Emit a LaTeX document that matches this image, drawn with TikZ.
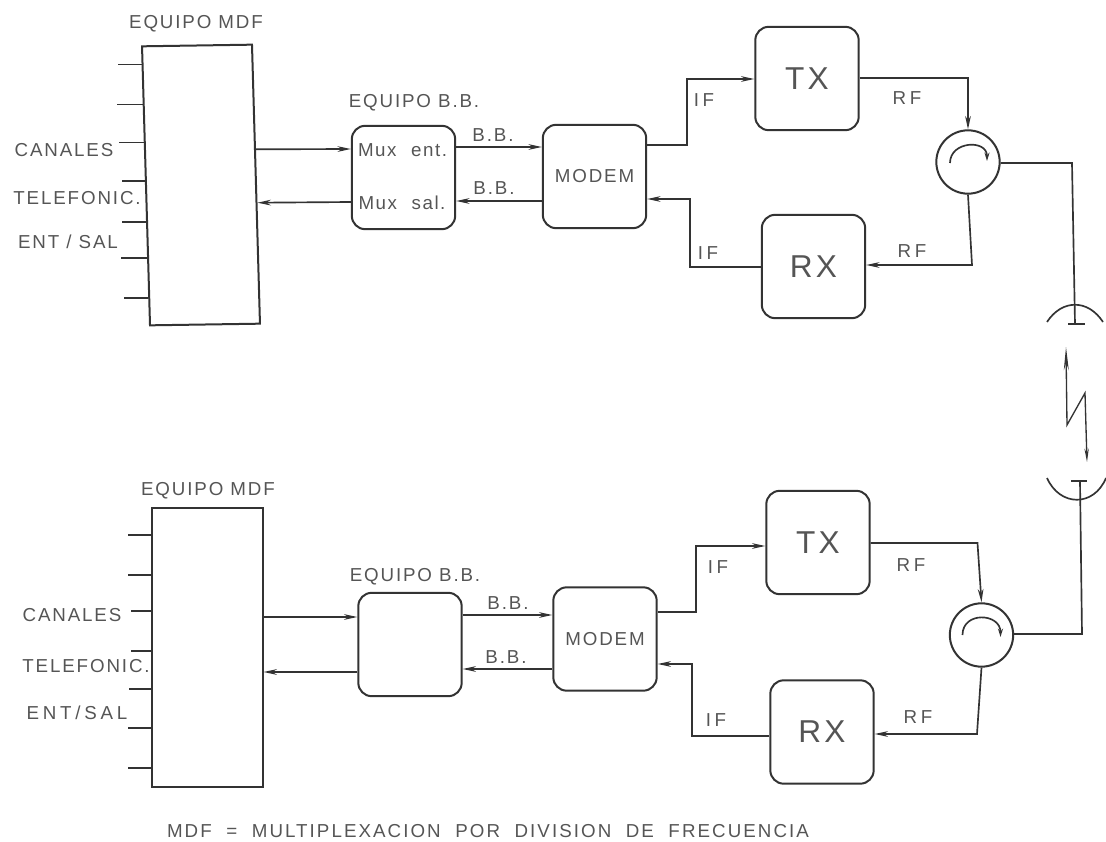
\documentclass[tikz,border=0pt]{standalone}
\usepackage{fontspec}
\setmainfont{Liberation Sans}
\newfontfamily\lblfont[LetterSpace=10]{Liberation Sans}
\newfontfamily\widefont[LetterSpace=20]{Liberation Sans}
\newfontfamily\notefont[LetterSpace=11, WordSpace=2]{Liberation Sans}
\newfontfamily\muxfont[LetterSpace=8, WordSpace=2.2]{Liberation Sans}
\usetikzlibrary{arrows.meta, calc}
\definecolor{clrInk}{HTML}{333333}
\definecolor{clrText}{HTML}{555555}
\tikzset{
  mdfbox/.style = {rectangle, draw=clrInk, line width=0.06cm, minimum width=3.3cm, minimum height=8.37cm, inner sep=0pt},
  unit/.style = {rectangle, rounded corners=0.4cm, draw=clrInk, line width=0.06cm, minimum width=3.1cm, minimum height=3.1cm,
                 inner sep=0pt, align=center, text=clrText},
  circulator/.style = {circle, draw=clrInk, line width=0.06cm, minimum size=1.9cm, inner sep=0pt},
  wire/.style = {line width=0.05cm, draw=clrInk},
  arrow/.style = {wire, -{Stealth[length=4mm, width=1.7mm]}},
  spin/.style = {line width=0.05cm, draw=clrInk, -{Stealth[length=2.5mm, width=1.5mm]}},
  lbl/.style = {inner sep=0pt, text=clrText, font=\lblfont\fontsize{16}{18}\selectfont},
  lblwide/.style = {inner sep=0pt, text=clrText, font=\widefont\fontsize{16}{18}\selectfont},
  note/.style = {inner sep=0pt, text=clrText, font=\notefont\fontsize{16}{18}\selectfont},
  mux/.style = {inner sep=0pt, text=clrText, font=\muxfont\fontsize{16}{18}\selectfont},
  modemtxt/.style = {font=\lblfont\fontsize{16}{18}\selectfont},
  radiotxt/.style = {font=\lblfont\fontsize{27}{30}\selectfont},
}
\begin{document}
\begin{tikzpicture}[x=0.03cm, y=-0.03cm]
  \useasboundingbox (0,0) rectangle (1106,842);

  % --- Upper station ---
  \begin{scope}[shift={(201,185)}, xslant=-0.0286, yslant=0.015]
    \node[mdfbox, transform shape] at (0,0) (MDFa) {};
  \end{scope}
  \node[unit] at (403.5,177.5) (BBa) {};
  \node[unit, modemtxt] at (594.5,176.5) (MODa) {MODEM};
  \node[unit, radiotxt] at (807,78.5) (TXa) {TX};
  \node[unit, radiotxt] at (813.5,266.5) (RXa) {RX};
  \node[circulator] at (968,162) (CIRa) {};

  % Channel stubs
  \foreach \t/\l in {0.068/24, 0.211/26, 0.346/25, 0.482/23, 0.629/24, 0.757/26, 0.9/24} {
    \draw[wire] ($(MDFa.north west)!\t!(MDFa.south west)$) -- +(-\l,0);
  }

  % Upper links
  \draw[arrow] ($(MDFa.north east)!0.376!(MDFa.south east)$) -- (BBa.west |- 0,149);
  \draw[arrow] (BBa.west |- 0,202) -- ($(MDFa.north east)!0.566!(MDFa.south east)$);
  \draw[arrow] (BBa.east |- 0,147) -- (MODa.west |- 0,147);
  \draw[arrow] (MODa.west |- 0,201) -- (BBa.east |- 0,201);
  \draw[arrow] (MODa.east |- 0,145) -- (687,145) -- (687,79) -- (TXa.west |- 0,79);
  \draw[arrow] (RXa.west |- 0,267) -- (690,267) -- (690,199) -- (MODa.east |- 0,199);
  \draw[arrow] (TXa.east |- 0,78) -- (968,78) -- (CIRa.north);
  \draw[arrow] (CIRa.south) -- (972,265) -- (RXa.east |- 0,265);
  \draw[spin] ([shift={(-18,1)}]CIRa.center) .. controls +(0,-22) and +(0,-22) .. ([shift={(19,-1)}]CIRa.center);

  % Upper labels
  \node[lbl] at (196,24) (LMDFa) {EQUIPO MDF};
  \node[lbl] at (414,103) (LBBa) {EQUIPO B.B.};
  \node[mux] at (402.5,150) (LMUXa) {Mux ent.};
  \node[mux] at (402,203) (LMUXb) {Mux sal.};
  \node[lbl] at (493,135) (LBBb) {B.B.};
  \node[lbl] at (494,188) (LBBc) {B.B.};
  \node[lblwide] at (704,100) (LIFa) {IF};
  \node[lblwide] at (708,253) (LIFb) {IF};
  \node[lblwide] at (907,98) (LRFa) {RF};
  \node[lblwide] at (912,251) (LRFb) {RF};
  \node[lbl] at (64,150) (LCANa) {CANALES};
  \node[lbl] at (77,198) (LTELa) {TELEFONIC.};
  \node[lbl] at (68,242) (LENTa) {ENT / SAL};

  % --- Lower station ---
  \node[mdfbox] at (207.5,647.5) (MDFb) {};
  \node[unit] at (410,644.5) (BBb) {};
  \node[unit, modemtxt] at (605,639) (MODb) {MODEM};
  \node[unit, radiotxt] at (818,542.5) (TXb) {TX};
  \node[unit, radiotxt] at (822,732) (RXb) {RX};
  \node[circulator] at (981.5,635) (CIRb) {};

  \foreach \y/\l in {535/23, 575/23, 611/20, 651/20, 689/22, 728/23, 768/23} {
    \draw[wire] (MDFb.west |- 0,\y) -- +(-\l,0);
  }

  % Lower links
  \draw[arrow] (MDFb.east |- 0,617) -- (BBb.west |- 0,617);
  \draw[arrow] (BBb.west |- 0,672) -- (MDFb.east |- 0,672);
  \draw[arrow] (BBb.east |- 0,615) -- (MODb.west |- 0,615);
  \draw[arrow] (MODb.west |- 0,669) -- (BBb.east |- 0,669);
  \draw[arrow] (MODb.east |- 0,612) -- (696,612) -- (696,546) -- (TXb.west |- 0,546);
  \draw[arrow] (RXb.west |- 0,736) -- (692,736) -- (692,664) -- (MODb.east |- 0,664);
  \draw[arrow] (TXb.east |- 0,543) -- (977.5,543) -- (CIRb.north);
  \draw[arrow] (CIRb.south) -- (977,734) -- (RXb.east |- 0,734);
  \draw[spin] ([shift={(-19,0)}]CIRb.center) .. controls +(0,-24) and +(0,-24) .. ([shift={(19,2)}]CIRb.center);

  % Lower labels
  \node[lbl] at (208,491) (LMDFb) {EQUIPO MDF};
  \node[lbl] at (415,577) (LBBd) {EQUIPO B.B.};
  \node[lbl] at (508,603) (LBBe) {B.B.};
  \node[lbl] at (506,657) (LBBf) {B.B.};
  \node[lblwide] at (718,567) (LIFc) {IF};
  \node[lblwide] at (716,720) (LIFd) {IF};
  \node[lblwide] at (911,565) (LRFc) {RF};
  \node[lblwide] at (918,717) (LRFd) {RF};
  \node[lbl] at (72,615) (LCANb) {CANALES};
  \node[lbl] at (86,666) (LTELb) {TELEFONIC.};
  \node[lblwide] at (77,713) (LENTb) {ENT/SAL};
  \node[note] at (488,831) (LNOTE) {MDF = MULTIPLEXACION POR DIVISION DE FRECUENCIA};

  % --- Radio link ---
  \coordinate (ANTa) at (1075,324);
  \coordinate (ANTb) at (1080,481);
  \draw[wire] (CIRa.east |- 0,163) -- (1072,163) -- (ANTa);
  \draw[wire] (CIRb.east |- 0,634) -- (1082,634) -- (ANTb);
  \draw[wire, line width=0.08cm] (1068,324) -- (1085,324);
  \draw[wire, line width=0.08cm] (1071,481) -- (1087,481);
  \draw[wire] (1047,322) .. controls (1062,299) and (1088,299) .. (1103,322);
  \draw[wire] (1047,478) .. controls (1060,507) and (1094,507) .. (1106,478);
  \draw[line width=0.04cm, draw=clrInk, {Stealth[length=7mm, width=1.5mm]}-{Stealth[length=4mm, width=1.3mm]}]
    (1066,347) -- (1067,425) -- (1085,393) -- (1087,462);
\end{tikzpicture}
\end{document}
